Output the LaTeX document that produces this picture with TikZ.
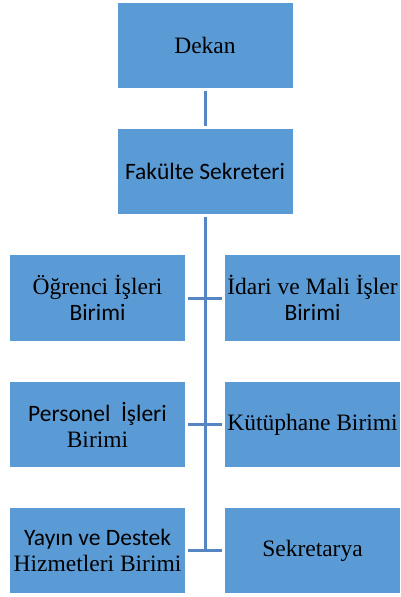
\documentclass[tikz,border=0pt]{standalone}
\usepackage{fontspec}
\setmainfont{Liberation Serif}
\newfontfamily\calib{Carlito}
\definecolor{boxblue}{HTML}{5B9BD5}
\definecolor{lineblue}{HTML}{5586C3}
\tikzset{
  orgbox/.style={fill=boxblue, draw=none, minimum width=175pt, minimum height=85.5pt,
    inner sep=0pt, align=center, font=\fontsize{23.5}{26}\selectfont},
  link/.style={draw=lineblue, line width=3pt, shorten <=2.5pt, shorten >=2.5pt}
}
\begin{document}
\begin{tikzpicture}[x=1pt,y=-1pt]
\useasboundingbox (0,0) rectangle (400,597);
\node[orgbox] (dekan) at (205,45.5) {Dekan};
\node[orgbox] (fs) at (205,171.5) {\calib Fakülte Sekreteri};
\node[orgbox] (l1) at (97.5,298) {Öğrenci İşleri\\\calib Birimi};
\node[orgbox] (r1) at (312.5,298) {İdari ve Mali İşler\\\calib Birimi};
\node[orgbox] (l2) at (97.5,424.5) {\calib Personel~~İşleri\\Birimi};
\node[orgbox] (r2) at (312.5,424.5) {Kütüphane Birimi};
\node[orgbox] (l3) at (97.5,550.5) {\calib Yayın ve Destek\\Hizmetleri Birimi};
\node[orgbox] (r3) at (312.5,550.5) {Sekretarya};
\coordinate (trunkend) at (205,552);
\draw[link] (dekan) -- (fs);
\draw[link, shorten >=0pt] (fs) -- (trunkend);
\draw[link] (l1) -- (r1);
\draw[link] (l2) -- (r2);
\draw[link] (l3) -- (r3);
\end{tikzpicture}
\end{document}
